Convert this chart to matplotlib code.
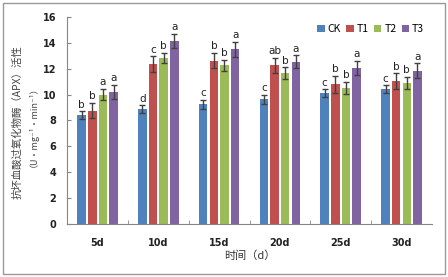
import numpy as np
import matplotlib
matplotlib.use("Agg")
import matplotlib.pyplot as plt
from matplotlib.patches import Rectangle

plt.rcParams['font.family'] = ['Noto Sans CJK SC', 'DejaVu Sans']

# dados
dias = ["5d", "10d", "15d", "20d", "25d", "30d"]
series = ["CK", "T1", "T2", "T3"]
ck = [8.42, 8.86, 9.27, 9.63, 10.1, 10.43]
t1 = [8.76, 12.36, 12.62, 12.26, 10.8, 11.03]
t2 = [10.0, 12.85, 12.26, 11.67, 10.5, 10.92]
t3 = [10.2, 14.14, 13.5, 12.54, 12.08, 11.85]
erro_ck = [0.3, 0.3, 0.35, 0.35, 0.3, 0.3]
erro_t1 = [0.6, 0.6, 0.6, 0.6, 0.65, 0.62]
erro_t2 = [0.45, 0.4, 0.45, 0.45, 0.48, 0.46]
erro_t3 = [0.55, 0.55, 0.6, 0.5, 0.55, 0.57]
letras_ck = ["b", "d", "c", "c", "c", "c"]
letras_t1 = ["b", "c", "b", "ab", "b", "b"]
letras_t2 = ["a", "b", "b", "b", "b", "b"]
letras_t3 = ["a", "a", "a", "a", "a", "a"]

valores = [ck, t1, t2, t3]
erros = [erro_ck, erro_t1, erro_t2, erro_t3]
letras = [letras_ck, letras_t1, letras_t2, letras_t3]
cores = ["#4F81BD", "#C0504D", "#9BBB59", "#8064A2"]

fig = plt.figure(figsize=(4.48, 2.77), dpi=100)
ax = fig.add_axes([0.150, 0.191, 0.814, 0.748])

x = np.arange(len(dias))
passo = 0.175
largura = 0.14
for i, nome in enumerate(series):
    pos = x + (i - 1.5) * passo
    ax.bar(pos, valores[i], largura, color=cores[i], label=nome, zorder=2)
    ax.errorbar(pos, valores[i], yerr=erros[i], fmt="none", ecolor="#404040",
                elinewidth=1, capsize=2, capthick=1, zorder=3)
    for xp, v, e, l in zip(pos, valores[i], erros[i], letras[i]):
        ax.text(xp, v + e + 0.12, l, ha="center", va="bottom", fontsize=7.5,
                family="DejaVu Sans", color="#222222")

ax.set_xlim(-0.5, 5.5)
ax.set_ylim(0, 16)
ax.set_yticks(range(0, 17, 2))
ax.set_xticks(x)
ax.set_xticklabels(dias)
ax.set_xticks(np.arange(0.5, 5.5, 1), minor=True)
ax.tick_params(axis="x", which="major", length=0, pad=10, labelsize=7)
ax.tick_params(axis="x", which="minor", direction="in", length=3, color="#868686")
ax.tick_params(axis="y", direction="in", length=3, color="#868686", labelsize=7, pad=8)
for lab in ax.get_xticklabels() + ax.get_yticklabels():
    lab.set_family("DejaVu Sans")
    lab.set_fontweight("bold")
    lab.set_color("#222222")
for s in ["top", "right"]:
    ax.spines[s].set_visible(False)
for s in ["left", "bottom"]:
    ax.spines[s].set_color("#868686")

ax.set_xlabel("时间（d）", fontsize=8, labelpad=2, color="#333333")

fig.text(0.038, 0.56, "抗坏血酸过氧化物酶（APX）活性", rotation=90,
         ha="center", va="center", fontsize=7.5, color="#444444")
fig.text(0.064, 0.56, "（U·mg⁻¹·min⁻¹）", rotation=90,
         ha="center", va="center", fontsize=6.5, color="#444444")

ax.legend(loc="upper right", bbox_to_anchor=(0.99, 0.985), ncol=4, frameon=False,
          fontsize=7.5, handlelength=0.7, handleheight=0.7, handletextpad=0.3,
          columnspacing=0.5, borderaxespad=0)

fig.patches.append(Rectangle((0.006, 0.012), 0.988, 0.976, transform=fig.transFigure,
                             fill=False, edgecolor="#999999", linewidth=1))

fig.savefig("out.png", dpi=100)
